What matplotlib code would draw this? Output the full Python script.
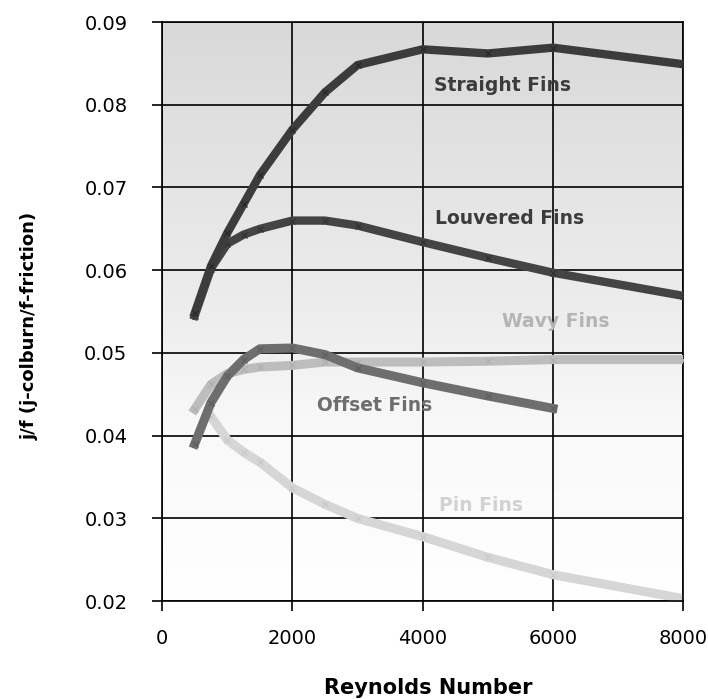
import numpy as np
import matplotlib.pyplot as plt

# Reynolds number vs j/f for different fin types
re_straight = [500, 750, 1000, 1250, 1500, 2000, 2500, 3000, 4000, 5000, 6000, 8000]
jf_straight = [0.0548, 0.0605, 0.0645, 0.0680, 0.0715, 0.0770, 0.0815, 0.0848, 0.0867, 0.0862, 0.0869, 0.0849]

re_louvered = [500, 750, 1000, 1250, 1500, 2000, 2500, 3000, 4000, 5000, 6000, 8000]
jf_louvered = [0.0545, 0.0602, 0.0632, 0.0643, 0.0650, 0.0660, 0.0660, 0.0654, 0.0634, 0.0615, 0.0597, 0.0569]

re_wavy = [500, 750, 1000, 1250, 1500, 2000, 2500, 3000, 4000, 5000, 6000, 8000]
jf_wavy = [0.0432, 0.0462, 0.0475, 0.0480, 0.0483, 0.0485, 0.0489, 0.0489, 0.0489, 0.0490, 0.0492, 0.0492]

re_offset = [500, 750, 1000, 1250, 1500, 2000, 2500, 3000, 4000, 5000, 6000]
jf_offset = [0.0390, 0.0440, 0.0472, 0.0492, 0.0505, 0.0506, 0.0498, 0.0482, 0.0464, 0.0448, 0.0433]

re_pin = [750, 1000, 1250, 1500, 2000, 2500, 3000, 4000, 5000, 6000, 8000]
jf_pin = [0.0423, 0.0395, 0.0380, 0.0368, 0.0337, 0.0317, 0.0300, 0.0278, 0.0253, 0.0232, 0.0203]

xticks = [0, 2000, 4000, 6000, 8000]
yticks = [0.02, 0.03, 0.04, 0.05, 0.06, 0.07, 0.08, 0.09]

fig = plt.figure(figsize=(7.08, 6.99), dpi=100)
ax = fig.add_axes([0.229, 0.140, 0.736, 0.8285])

# scanned paper look: light grey at the top fading to white
frac = np.linspace(0, 1, 256)
shade = np.interp(frac, [0, 0.3, 0.5, 1], [1.0, 0.975, 0.93, 0.85])
img = np.dstack([shade, shade, shade]).reshape(256, 1, 3)
ax.imshow(img, extent=[0, 1, 0, 1], transform=ax.transAxes, aspect='auto',
          origin='lower', zorder=0)

ax.plot(re_pin, jf_pin, color='#d6d6d6', lw=6.5, marker='x', ms=5, mec='#cacaca', zorder=2)
ax.plot(re_wavy, jf_wavy, color='#bdbdbd', lw=6.5, marker='x', ms=5, mec='#b0b0b0', zorder=3)
ax.plot(re_offset, jf_offset, color='#6e6e6e', lw=6.5, marker='x', ms=5, mec='#606060', zorder=4)
ax.plot(re_louvered, jf_louvered, color='#444444', lw=6, marker='x', ms=5, mec='#333333', zorder=5)
ax.plot(re_straight, jf_straight, color='#3c3c3c', lw=6, marker='x', ms=5, mec='#2a2a2a', zorder=6)

txt = dict(fontsize=13.5, fontweight='bold', ha='center', va='center', zorder=7)
ax.text(5220, 0.0823, 'Straight Fins', color='#3c3c3c', **txt)
ax.text(5330, 0.0662, 'Louvered Fins', color='#3c3c3c', **txt)
ax.text(6050, 0.0538, 'Wavy Fins', color='#b4b4b4', **txt)
ax.text(3260, 0.0437, 'Offset Fins', color='#6e6e6e', **txt)
ax.text(4890, 0.0316, 'Pin Fins', color='#d2d2d2', **txt)

ax.set_xlim(0, 8000)
ax.set_ylim(0.02, 0.09)
ax.set_xticks(xticks)
ax.set_yticks(yticks)
ax.set_yticklabels(['%.2f' % v for v in yticks])
ax.grid(True, color='black', lw=1.2, zorder=1)
for s in ax.spines.values():
    s.set_color('black')
    s.set_linewidth(1.2)
ax.tick_params(direction='out', length=7, width=1.2, labelsize=14, color='black')
ax.tick_params(axis='y', pad=18)
ax.tick_params(axis='x', pad=13)

ax.set_xlabel('Reynolds Number', fontsize=15, fontweight='bold', va='center')
ax.xaxis.set_label_coords(0.51, -0.150)
ax.set_ylabel('j/f (j-colburn/f-friction)', fontsize=13, fontweight='bold', va='center')
ax.yaxis.set_label_coords(-0.255, 0.475)

fig.savefig('out.png', dpi=100)
